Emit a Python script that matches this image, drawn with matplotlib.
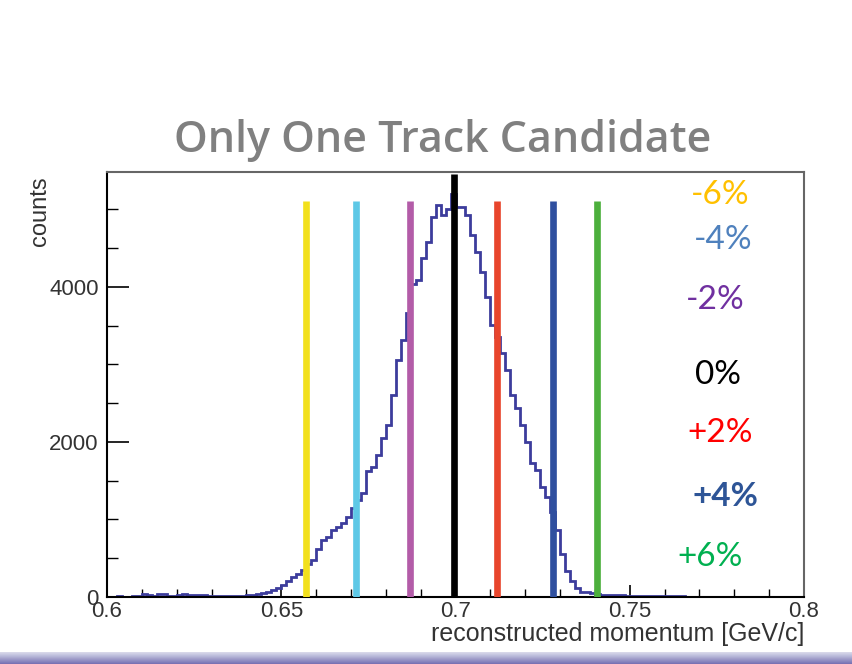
import numpy as np
import matplotlib
matplotlib.use('Agg')
import matplotlib.pyplot as plt
from matplotlib.ticker import MultipleLocator

# histogram: 140 bins between 0.6 and 0.8 GeV/c
bin_edges = np.linspace(0.6, 0.8, 141)
counts = ([5, 5, 8, 5, 5, 8, 10]
          + [35, 30, 15, 40, 40, 15, 15, 20, 40, 30, 30, 30, 30,
             15, 15, 15, 15, 15, 15, 15, 15]
          + [20, 30, 40, 50, 70, 90, 120, 150, 200, 260, 300, 350, 420, 480,
             620, 740, 780, 860, 900, 960, 1030, 1150, 1250, 1340, 1620, 1680,
             1830, 2050, 2220, 2600, 3050, 3320, 3660, 4030, 4090, 4370, 4580,
             4900, 5060, 4930, 5000, 5190, 5030, 5030, 4930, 4670, 4450, 4190,
             3870, 3510, 3355, 3150, 2930, 2605, 2440, 2220, 2000, 1730, 1640,
             1420, 1290, 1100, 865, 560, 330, 200, 120, 70, 60, 50, 40]
          + [25] * 5 + [10] * 12 + [5] * 24)

# momentum scale shifts
shift_labels = ['-6%', '-4%', '-2%', '0%', '+2%', '+4%', '+6%']
shift_pos = [0.657, 0.6715, 0.687, 0.6995, 0.712, 0.728, 0.7405]
shift_top = [5100, 5100, 5100, 5450, 5100, 5100, 5100]
line_colors = ['#f2e01c', '#5ec8e6', '#b35ca8', '#000000', '#e8452c', '#2f4f9f', '#4caf3c']
text_colors = ['#ffc000', '#4f81bd', '#7030a0', '#000000', '#ff0000', '#2e5597', '#00b050']
text_y = [195, 240, 300, 375, 433, 497, 557]
text_x = [720, 723, 715, 718, 720, 725, 710]

fig = plt.figure(figsize=(8.53, 6.64), dpi=100)
ax = fig.add_axes([107 / 853, 67 / 664, 697 / 853, 425 / 664])

ax.stairs(counts, bin_edges, color='#3c3c9c', lw=2.0, zorder=2)
for p, top, c in zip(shift_pos, shift_top, line_colors):
    ax.vlines(p, 0, top, color=c, lw=4.8, zorder=3)

ax.set_xlim(0.6, 0.8)
ax.set_ylim(0, 5480)
ax.xaxis.set_minor_locator(MultipleLocator(0.01))
ax.yaxis.set_major_locator(MultipleLocator(2000))
ax.yaxis.set_minor_locator(MultipleLocator(500))
ax.set_xticks([0.6, 0.65, 0.7, 0.75, 0.8])
ax.set_xticklabels(['0.6', '0.65', '0.7', '0.75', '0.8'])
ax.tick_params(axis='x', which='major', direction='in', length=9, width=1.2,
               labelsize=16, labelcolor='#333333', pad=3)
ax.tick_params(axis='x', which='minor', direction='in', length=6, width=1.0)
ax.tick_params(axis='y', which='major', direction='in', length=16, width=1.2,
               labelsize=16, labelcolor='#333333', pad=6)
ax.tick_params(axis='y', which='minor', direction='in', length=8, width=1.0)
for lab in ax.get_xticklabels() + ax.get_yticklabels():
    lab.set_family('Liberation Sans')

for s in ['left', 'bottom']:
    ax.spines[s].set_linewidth(1.5)
for s in ['top', 'right']:
    ax.spines[s].set_linewidth(1.5)
    ax.spines[s].set_color('#666666')

ax.set_xlabel('reconstructed momentum [GeV/c]', fontsize=18, color='#333333',
              family='Liberation Sans', ha='right', x=1.0, labelpad=0)
fig.text(40 / 853, 1 - 176 / 664, 'counts', rotation=90, va='top', ha='center',
         fontsize=17, color='#333333', family='Liberation Sans')

fig.text(443 / 853, 1 - 140 / 664, 'Only One Track Candidate', ha='center', va='center',
         fontsize=31, fontweight='semibold', color='#808080', family='Open Sans')

for lab, c, tx, ty in zip(shift_labels, text_colors, text_x, text_y):
    w = 'bold' if lab == '+4%' else 'normal'
    fig.text(tx / 853, 1 - ty / 664, lab, ha='center', va='center',
             fontsize=24, color=c, fontweight=w, family='Lato')

# slide footer band
band = fig.add_axes([0, 0, 1, 12 / 664])
band.imshow(np.linspace(0, 1, 20).reshape(-1, 1), aspect='auto', cmap='Purples',
            vmin=-0.6, vmax=1.8, extent=[0, 1, 0, 1])
band.axis('off')

fig.savefig('out.png', dpi=100)
